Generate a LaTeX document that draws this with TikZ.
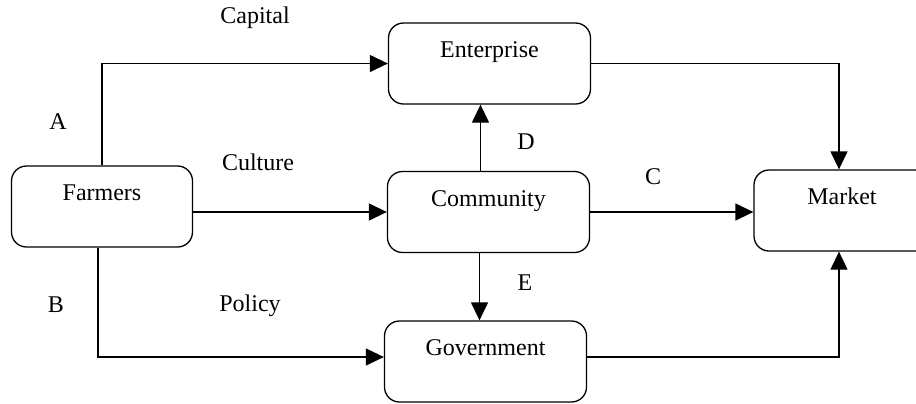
\documentclass[tikz,border=0pt]{standalone}
\usepackage{fontspec}
\setmainfont{Liberation Serif}
\usepackage{tikz}
\usetikzlibrary{arrows.meta,calc}
\tikzstyle{block}=[draw, line width=.65pt, rounded corners=7.5pt, minimum height=40.5pt, text height=8pt, text depth=14pt, font=\fontsize{12}{14}\selectfont]
\tikzstyle{flow}=[line width=.65pt, -{Triangle[length=9pt,width=8.5pt]}]
\tikzstyle{tag}=[font=\fontsize{12}{14}\selectfont, inner sep=0pt]

\begin{document}
\begin{tikzpicture}[x=.5pt, y=-.5pt]
	\useasboundingbox (0,0) rectangle (916,403);
	\node[block, minimum width=101pt] (enterprise) at (489.5,63.5) {Enterprise};
	\node[block, minimum width=90.5pt] (farmers) at (102,206.5) {Farmers};
	\node[block, minimum width=101pt] (community) at (488.5,212) {Community};
	\node[block, minimum width=88pt] (market) at (842,210.5) {Market};
	\node[block, minimum width=101pt] (government) at (485.5,361.5) {Government};
	\draw[flow] (farmers.north) |- (enterprise.west);
	\draw[flow] (farmers.east |- community.west) -- (community.west);
	\draw[flow] ([xshift=-2pt]farmers.south) |- ([yshift=2.25pt]government.west);
	\draw[flow] ([xshift=-4pt]community.north) -- ([xshift=-4pt]community.north |- enterprise.south);
	\draw[flow] ([xshift=-4.5pt]community.south) -- ([xshift=-4.5pt]community.south |- government.north);
	\draw[flow] (community.east) -- (community.east -| market.west);
	\draw[flow] (enterprise.east) -| ([xshift=-1.5pt]market.north);
	\draw[flow] ([yshift=2.25pt]government.east) -| ([xshift=-1.5pt]market.south);
	\node[tag] (capital) at (255,18) {Capital};
	\node[tag] (culture) at (258,162) {Culture};
	\node[tag] (policy) at (250,306) {Policy};
	\node[tag] (la) at (58,122) {A};
	\node[tag] (lb) at (56,305) {B};
	\node[tag] (lc) at (653,177) {C};
	\node[tag] (ld) at (526,142) {D};
	\node[tag] (le) at (525,283) {E};
\end{tikzpicture}
\end{document}
